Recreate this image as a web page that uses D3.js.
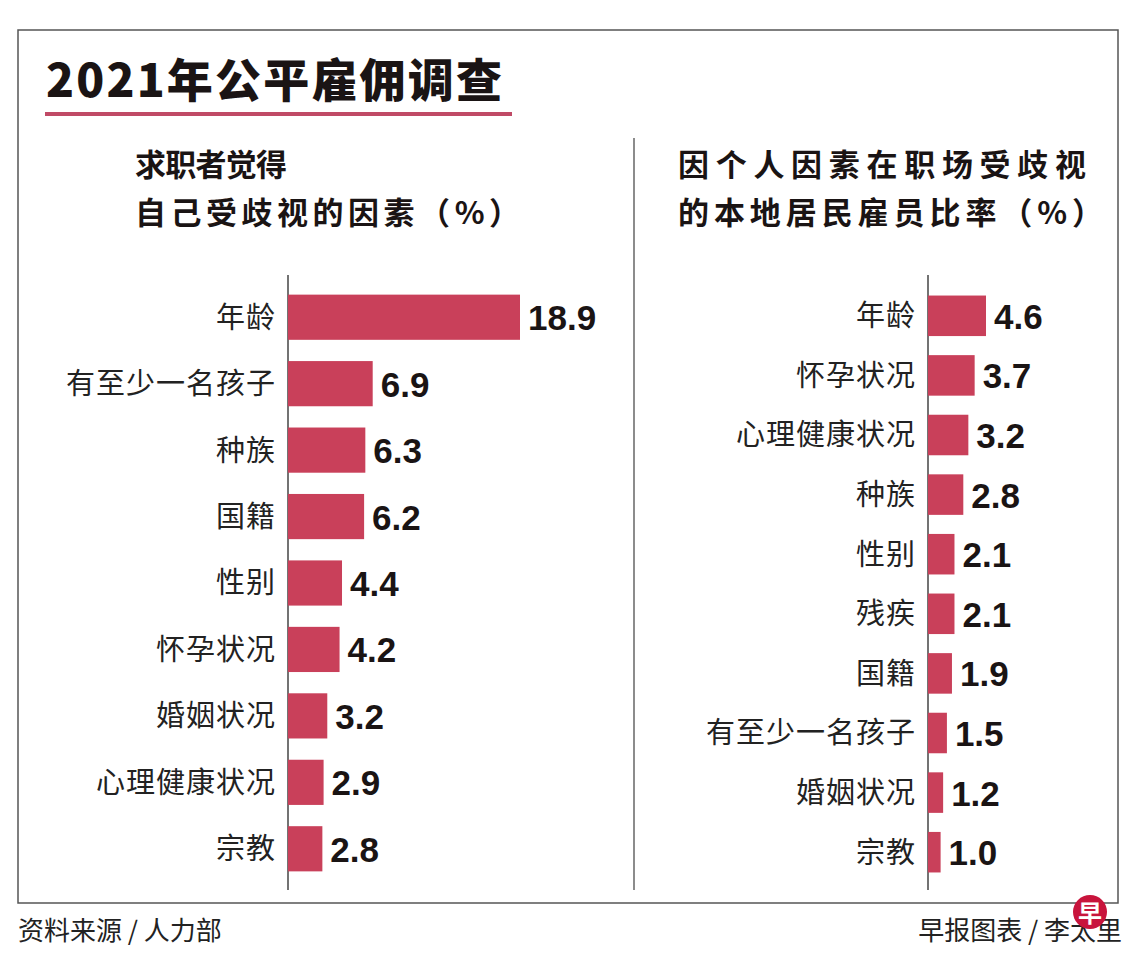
<!DOCTYPE html>
<html><head><meta charset="utf-8">
<script src="https://cdn.jsdelivr.net/npm/d3@7/dist/d3.min.js"></script>
<style>body{margin:0;background:#fff}svg{font-family:"Noto Sans CJK SC",sans-serif}</style>
</head><body>
<script>
const leftCats = ["年龄","有至少一名孩子","种族","国籍","性别","怀孕状况","婚姻状况","心理健康状况","宗教"];
const leftVals = [18.9,6.9,6.3,6.2,4.4,4.2,3.2,2.9,2.8];
const rightCats = ["年龄","怀孕状况","心理健康状况","种族","性别","残疾","国籍","有至少一名孩子","婚姻状况","宗教"];
const rightVals = [4.6,3.7,3.2,2.8,2.1,2.1,1.9,1.5,1.2,1.0];
const barColor = "#c9405a";

const svg = d3.select("body").append("svg").attr("width",1140).attr("height",966);
svg.append("rect").attr("x",18).attr("y",30).attr("width",1100).attr("height",873)
  .attr("fill","none").attr("stroke","#555").attr("stroke-width",1.5);
svg.append("text").attr("x",46).attr("y",97).attr("font-size",46).attr("font-weight",900)
  .attr("letter-spacing",2).attr("textLength",458).attr("fill","#1a1414").text("2021年公平雇佣调查");
svg.append("rect").attr("x",45).attr("y",112).attr("width",467).attr("height",4).attr("fill","#c04a66");
svg.append("line").attr("x1",634).attr("x2",634).attr("y1",138).attr("y2",890).attr("stroke","#666").attr("stroke-width",1.5);

function subtitle(x, lines, lens){
  lines.forEach((t,i)=>svg.append("text").attr("x",x).attr("y",176+i*48)
    .attr("font-size",31).attr("font-weight",700).attr("textLength",lens[i]).attr("fill","#1a1414").text(t));
}
subtitle(135,["求职者觉得","自己受歧视的因素（%）"],[152,385]);
subtitle(678,["因个人因素在职场受歧视","的本地居民雇员比率（%）"],[408,425]);

function chart(x0, cats, vals, y0, y1, maxV, maxW){
  const x = d3.scaleLinear().domain([0,maxV]).range([x0,x0+maxW]);
  const y = d3.scaleBand().domain(cats).range([y0,y1]).paddingInner(0.32).paddingOuter(0.16);
  const g = svg.append("g");
  g.append("line").attr("x1",x0).attr("x2",x0).attr("y1",275).attr("y2",890).attr("stroke","#444").attr("stroke-width",1.5);
  g.selectAll("rect.bar").data(vals).join("rect").attr("class","bar")
    .attr("x",x0).attr("y",(d,i)=>y(cats[i])).attr("width",d=>x(d)-x0).attr("height",y.bandwidth()).attr("fill",barColor);
  g.selectAll("text.cat").data(cats).join("text").attr("class","cat")
    .attr("x",x0-12).attr("y",d=>y(d)+y.bandwidth()/2).attr("dy","0.36em").attr("text-anchor","end")
    .attr("font-size",29).attr("letter-spacing",1).attr("fill","#222").text(d=>d);
  g.selectAll("text.val").data(vals).join("text").attr("class","val")
    .attr("x",d=>x(d)+8).attr("y",(d,i)=>y(cats[i])+y.bandwidth()/2).attr("dy","0.37em")
    .attr("font-family","Liberation Sans, Arial, sans-serif").attr("font-size",35).attr("font-weight",700)
    .attr("fill","#1a1414").text(d=>d.toFixed(1));
}
chart(288, leftCats, leftVals, 284, 882, 18.9, 232);
chart(928, rightCats, rightVals, 286, 882, 4.6, 58);

svg.append("text").attr("x",18).attr("y",940).attr("font-size",26).attr("fill","#222").text("资料来源 / 人力部");
svg.append("text").attr("x",1122).attr("y",940).attr("text-anchor","end").attr("font-size",26).attr("fill","#222").text("早报图表 / 李太里");
svg.append("circle").attr("cx",1090).attr("cy",912).attr("r",17).attr("fill","#c8143c");
svg.append("text").attr("x",1090).attr("y",913).attr("dy","0.36em").attr("text-anchor","middle").attr("font-size",24).attr("font-weight",700).attr("fill","#fff").text("早");
</script>
</body></html>
